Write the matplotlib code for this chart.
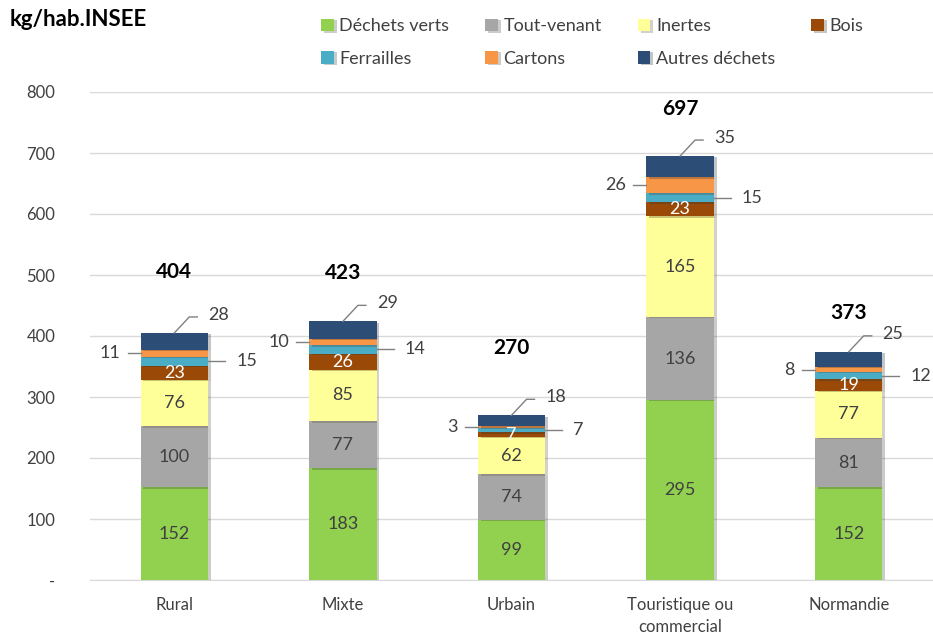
import matplotlib.pyplot as plt
import matplotlib.patheffects as pe
import numpy as np

# Données (kg/hab.INSEE)
categories = ['Rural', 'Mixte', 'Urbain', 'Touristique ou\ncommercial', 'Normandie']
dechets_verts = [152, 183, 99, 295, 152]
tout_venant = [100, 77, 74, 136, 81]
inertes = [76, 85, 62, 165, 77]
bois = [23, 26, 7, 23, 19]
ferrailles = [15, 14, 7, 15, 12]
cartons = [11, 10, 3, 26, 8]
autres = [28, 29, 18, 35, 25]
totaux = [404, 423, 270, 697, 373]

series = [
    ('Déchets verts', dechets_verts, '#92D050'),
    ('Tout-venant', tout_venant, '#A6A6A6'),
    ('Inertes', inertes, '#FFFF99'),
    ('Bois', bois, '#9A4A06'),
    ('Ferrailles', ferrailles, '#4BACC6'),
    ('Cartons', cartons, '#F79646'),
    ('Autres déchets', autres, '#2C4D75'),
]

plt.rcParams['font.family'] = ['Lato', 'DejaVu Sans']
txt = '#404040'

fig = plt.figure(figsize=(9.33, 6.41), dpi=100)
ax = fig.add_axes([90 / 933, 61 / 641, 843 / 933, 488 / 641])

x = np.arange(len(categories))
w = 0.4
px_x = 5.0 / 843   # unités de données par pixel
px_y = 800 / 488.0

bottom = np.zeros(len(categories))
bars = {}
for name, vals, col in series:
    ax.bar(x, vals, w, bottom=bottom, color=col, label=name, zorder=3,
           path_effects=[pe.SimplePatchShadow(offset=(2, -1), alpha=0.25), pe.Normal()])
    bars[name] = (np.array(vals), bottom.copy())
    bottom += np.array(vals)

# Étiquettes à l'intérieur
for name in ['Déchets verts', 'Tout-venant', 'Inertes', 'Bois']:
    vals, bot = bars[name]
    color = 'white' if name == 'Bois' else txt
    for i in range(len(x)):
        ax.text(x[i], bot[i] + vals[i] / 2, str(vals[i]), ha='center', va='center',
                fontsize=13, color=color, zorder=5)

# Cartons : à gauche
vals, bot = bars['Cartons']
for i in range(len(x)):
    yc = bot[i] + vals[i] / 2
    x0 = x[i] - w / 2
    ax.plot([x0 - 13 * px_x, x0], [yc, yc], color='#808080', lw=1, zorder=4)
    ax.text(x0 - 20 * px_x, yc, str(vals[i]), ha='right', va='center', fontsize=13, color=txt)

# Ferrailles : à droite
vals, bot = bars['Ferrailles']
for i in range(len(x)):
    yc = bot[i] + vals[i] / 2
    x0 = x[i] + w / 2
    ax.plot([x0, x0 + 17 * px_x], [yc, yc], color='#808080', lw=1, zorder=4)
    ax.text(x0 + 28 * px_x, yc, str(vals[i]), ha='left', va='center', fontsize=13, color=txt)

# Autres déchets : au-dessus avec ligne coudée
vals, bot = bars['Autres déchets']
for i in range(len(x)):
    top = bot[i] + vals[i]
    xs = [x[i], x[i] + 15 * px_x, x[i] + 23 * px_x]
    ys = [top, top + 16 * px_y, top + 16 * px_y]
    ax.plot(xs, ys, color='#808080', lw=1, zorder=4)
    ax.text(x[i] + 34 * px_x, top + 18 * px_y, str(vals[i]), ha='left', va='center',
            fontsize=13, color=txt)

# Totaux
total_offsets = [100, 80, 110, 77, 64]
for i in range(len(x)):
    ax.text(x[i], bottom[i] + total_offsets[i], str(totaux[i]), ha='center', va='center',
            fontsize=15, fontweight='bold', color='black')

ax.set_xlim(-0.5, 4.5)
ax.set_ylim(0, 800)
ax.set_yticks(range(0, 801, 100))
ax.set_yticklabels(['-'] + [str(v) for v in range(100, 801, 100)])
ax.set_xticks(x)
ax.set_xticklabels(categories, linespacing=1.5)
ax.tick_params(axis='both', length=0, labelsize=12, colors=txt)
ax.tick_params(axis='y', pad=25)
ax.tick_params(axis='x', pad=12)
ax.grid(axis='y', color='#D9D9D9', lw=1, zorder=0)
for s in ['top', 'right', 'left']:
    ax.spines[s].set_visible(False)
ax.spines['bottom'].set_color('#D9D9D9')

fig.text(10 / 933, 1 - 20 / 641, 'kg/hab.INSEE', fontsize=16, fontweight='bold',
         ha='left', va='center', color='black')

# légende remplie ligne par ligne (matplotlib remplit par colonne)
handles, labels = ax.get_legend_handles_labels()
order = [0, 4, 1, 5, 2, 6, 3]
fig.legend([handles[k] for k in order], [labels[k] for k in order], ncol=4,
           loc='upper left', bbox_to_anchor=(305 / 933, 1 - 2 / 641),
           frameon=False, fontsize=13, handlelength=0.7, handleheight=0.7,
           handletextpad=0.3, columnspacing=2.0, labelspacing=0.9, labelcolor=txt)

fig.savefig('out.png', dpi=100)
